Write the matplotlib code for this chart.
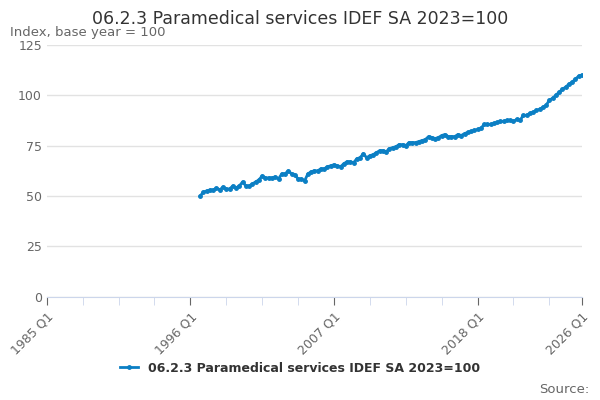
import matplotlib.pyplot as plt
import numpy as np

# quarterly values starting 1996 Q4
values = [50,
          52, 52.5, 53, 53,
          54, 53, 54.5, 53.5,
          53.5, 55, 54, 55,
          57, 55, 55, 56,
          57, 58, 60, 59,
          59, 59, 59.5, 58.5,
          61, 61, 62.5, 61,
          60.5, 58.5, 58.5, 57.5,
          61, 62, 62.5, 62.5,
          63.5, 63.5, 64.5, 65,
          65.5, 65, 64.5, 66,
          67, 67, 66.5, 68.5,
          69, 71, 69, 70,
          70.5, 71.5, 72.5, 72.5,
          72, 73.5, 74, 74.5,
          75.5, 75.5, 75, 76.5,
          76.5, 76.5, 77, 77.5,
          78, 79.5, 79, 78.5,
          79, 80, 80.5, 79.5,
          79.5, 79.5, 80.5, 80,
          81, 81.5, 82, 82.5,
          83, 83.5, 85.5, 85.5,
          85.5, 86, 86.5, 87,
          87, 87.5, 87.5, 87,
          88, 87.5, 90, 90,
          91, 91.5, 92.5, 93,
          94, 95, 97.5, 98.5,
          100, 101.5, 103, 104,
          105.5, 106.5, 108, 109.5,
          110]
start_q = (1996 - 1985) * 4 + 3
tick_labels = ["1985 Q1", "1996 Q1", "2007 Q1", "2018 Q1", "2026 Q1"]
title = "06.2.3 Paramedical services IDEF SA 2023=100"

x = np.arange(start_q, start_q + len(values))
end_q = (2026 - 1985) * 4

fig = plt.figure(figsize=(6, 4), dpi=100)
ax = fig.add_axes([0.078, 0.258, 0.892, 0.63])
color = "#0b7fc4"
ax.plot(x, values, color=color, lw=2, marker="o", ms=2.5, label=title)

ax.set_xlim(0, end_q)
ax.set_ylim(0, 125)
ax.set_yticks([0, 25, 50, 75, 100, 125])
ax.grid(axis="y", color="#e2e2e2", lw=1)
ax.set_axisbelow(True)

major = [0, 44, 88, 132, end_q]
ax.set_xticks(major)
ax.set_xticklabels(tick_labels, rotation=45, ha="right", rotation_mode="anchor")
ax.set_xticks(list(range(11, 164, 11)), minor=True)
ax.tick_params(axis="x", which="both", color="#ccd6eb", length=6)
ax.tick_params(axis="y", length=0)
ax.tick_params(colors="#666666", labelsize=9)

for s in ["top", "right", "left"]:
    ax.spines[s].set_visible(False)
ax.spines["bottom"].set_color("#ccd6eb")

fig.text(0.5, 0.975, title, ha="center", va="top", fontsize=12.5, color="#333333")
fig.text(0.017, 0.935, "Index, base year = 100", ha="left", va="top", fontsize=9.5, color="#666666")
fig.legend(loc="lower center", bbox_to_anchor=(0.5, 0.035), frameon=False,
           prop={"weight": "bold", "size": 9}, handlelength=1.5, labelcolor="#333333")
fig.text(0.982, 0.01, "Source:", ha="right", va="bottom", fontsize=9.5, color="#666666")

fig.savefig("out.png", dpi=100)
